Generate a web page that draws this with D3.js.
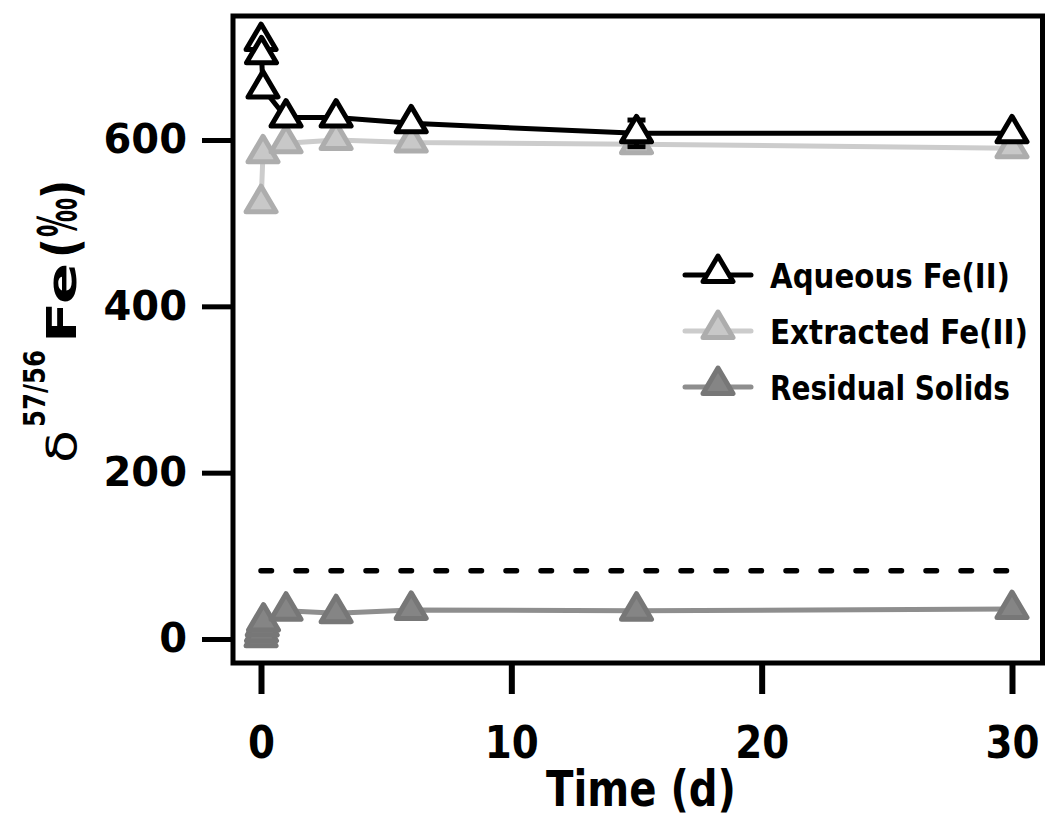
<!DOCTYPE html>
<html><head><meta charset="utf-8">
<script src="https://cdn.jsdelivr.net/npm/d3@7"></script>
<style>html,body{margin:0;padding:0;background:#fff;} svg{display:block;}</style>
</head><body>
<svg id="chart" width="1045" height="818"></svg>
<script>
// ---- data ----
const xTicks = [0, 10, 20, 30];
const yTicks = [0, 200, 400, 600];
const aqueousTime = [0.003, 0.02, 0.08, 1, 3, 6, 15, 30];
const aqueousVal  = [719, 703, 662, 627, 627, 620, 608, 608];
const aqueousErr  = [0, 0, 0, 0, 0, 0, 16, 0];
const extractedTime = [0.003, 0.08, 1, 3, 6, 15, 30];
const extractedVal  = [524, 584, 596, 600, 597, 595, 590];
const residualTime = [0.003, 0.02, 0.05, 0.1, 1, 3, 6, 15, 30];
const residualVal  = [2, 8, 15, 21, 34, 31, 35, 34, 36];
const initialTime = [0, 30];
const initialVal = [82, 82];
const seriesNames = ["Aqueous Fe(II)", "Extracted Fe(II)", "Residual Solids"];

const styles = [
  {line: "#000000", fill: "#ffffff", stroke: "#000000"},
  {line: "#cccccc", fill: "#c8c8c8", stroke: "#adadad"},
  {line: "#8e8e8e", fill: "#858585", stroke: "#777777"}
];

const svg = d3.select("#chart");
const x = d3.scaleLinear().domain([0, 30]).range([261, 1012]);
const y = d3.scaleLinear().domain([0, 600]).range([639, 140]);
const FONT = "'DejaVu Sans', sans-serif";

// place a text so that its drawn width equals `w` by horizontal scaling
function fitText(parent, str, ax, ay, w, fs, anchor, weight) {
  const t = parent.append("text").attr("x", 0).attr("y", 0)
    .attr("font-family", FONT).attr("font-weight", weight || "bold").attr("font-size", fs)
    .attr("text-anchor", anchor || "start").attr("fill", "#000").text(str);
  const nat = t.node().getComputedTextLength();
  const k = nat > 0 ? w / nat : 1;
  t.attr("transform", `translate(${ax},${ay}) scale(${k},1)`);
  return t;
}

// frame
svg.append("rect").attr("x", 233).attr("y", 16).attr("width", 1042.5 - 233).attr("height", 663 - 16)
  .attr("fill", "none").attr("stroke", "#000").attr("stroke-width", 5);

// axes
const yAxis = d3.axisLeft(y).tickValues(yTicks).tickSize(31).tickPadding(15).tickFormat(d3.format("d"));
const gy = svg.append("g").attr("transform", "translate(233,0)").call(yAxis);
gy.select(".domain").remove();
gy.selectAll(".tick line").attr("stroke", "#000").attr("stroke-width", 5);
gy.selectAll(".tick text").attr("font-family", FONT).attr("font-weight", "bold").attr("font-size", 40)
  .attr("fill", "#000").attr("dy", "0.32em");

const xAxis = d3.axisBottom(x).tickValues(xTicks).tickSize(31).tickPadding(0).tickFormat(d3.format("d"));
const gx = svg.append("g").attr("transform", "translate(0,663)").call(xAxis);
gx.select(".domain").remove();
gx.selectAll(".tick line").attr("stroke", "#000").attr("stroke-width", 6);
gx.selectAll(".tick text").remove();
gx.selectAll(".tick").each(function(d) {
  fitText(d3.select(this), d3.format("d")(d), 0, 95, 27 * String(d).length, 45, "middle");
});

// x label
fitText(svg, "Time (d)", 641, 806, 190, 50, "middle");

// y label (rotated pieces)
const yl = svg.append("g").attr("transform", "translate(76,0) rotate(-90)");
const ylPieces = [
  {t: "δ", y0: 463, y1: 430, v: 0, fs: 40, w: "normal"},
  {t: "57/56", y0: 427, y1: 350, v: -31, fs: 30, w: "bold"},
  {t: "Fe", y0: 343, y1: 263, v: 0, fs: 40, w: "bold"},
  {t: "(", y0: 258, y1: 238, v: 2, fs: 50, w: "bold"},
  {t: "‰", y0: 237, y1: 198, v: 0, fs: 54, w: "bold"},
  {t: ")", y0: 199, y1: 180, v: 2, fs: 50, w: "bold"}
];
ylPieces.forEach(p => {
  fitText(yl, p.t, -p.y0, p.v, p.y0 - p.y1, p.fs, "start", p.w);
});

// dashed initial line
svg.append("path")
  .attr("d", d3.line().x(d => x(d[0])).y(d => y(d[1]))(d3.zip(initialTime, initialVal)))
  .attr("fill", "none").attr("stroke", "#000").attr("stroke-width", 5.5)
  .attr("stroke-dasharray", "10.5,24.5").attr("stroke-linecap", "round");

const tri = "M0,-17L15,8.5L-15,8.5Z";
const line = d3.line().x(d => x(d[0])).y(d => y(d[1]));

function drawSeries(times, vals, st, errs) {
  const pts = d3.zip(times, vals);
  const g = svg.append("g");
  g.append("path").attr("d", line(pts)).attr("fill", "none").attr("stroke", st.line)
    .attr("stroke-width", 5).attr("stroke-linejoin", "round");
  if (errs) {
    pts.forEach((p, i) => {
      if (!errs[i]) return;
      const cx = x(p[0]);
      const e = g.append("g").attr("stroke", st.stroke).attr("stroke-width", 5);
      e.append("line").attr("x1", cx).attr("x2", cx).attr("y1", y(p[1] + errs[i])).attr("y2", y(p[1] - errs[i]));
      e.append("line").attr("x1", cx - 9).attr("x2", cx + 9).attr("y1", y(p[1] + errs[i])).attr("y2", y(p[1] + errs[i]));
      e.append("line").attr("x1", cx - 9).attr("x2", cx + 9).attr("y1", y(p[1] - errs[i])).attr("y2", y(p[1] - errs[i]));
    });
  }
  g.selectAll("path.m").data(pts).join("path").attr("class", "m")
    .attr("transform", d => `translate(${x(d[0])},${y(d[1])})`)
    .attr("d", tri).attr("fill", st.fill).attr("stroke", st.stroke)
    .attr("stroke-width", 5).attr("stroke-linejoin", "round");
}

drawSeries(residualTime, residualVal, styles[2]);
drawSeries(extractedTime, extractedVal, styles[1]);
drawSeries(aqueousTime, aqueousVal, styles[0], aqueousErr);

// legend
const legRows = [275, 331, 387];
const legWidths = [240, 258, 240];
seriesNames.forEach((name, i) => {
  const st = styles[i];
  const g = svg.append("g").attr("transform", `translate(0,${legRows[i]})`);
  g.append("line").attr("x1", 685).attr("x2", 751).attr("y1", 0).attr("y2", 0)
    .attr("stroke", st.line).attr("stroke-width", 5).attr("stroke-linecap", "round");
  g.append("path").attr("d", tri).attr("transform", "translate(718,-2)")
    .attr("fill", st.fill).attr("stroke", st.stroke).attr("stroke-width", 5).attr("stroke-linejoin", "round");
  fitText(g, name, 770, 13, legWidths[i], 34, "start");
});
</script>
</body></html>
